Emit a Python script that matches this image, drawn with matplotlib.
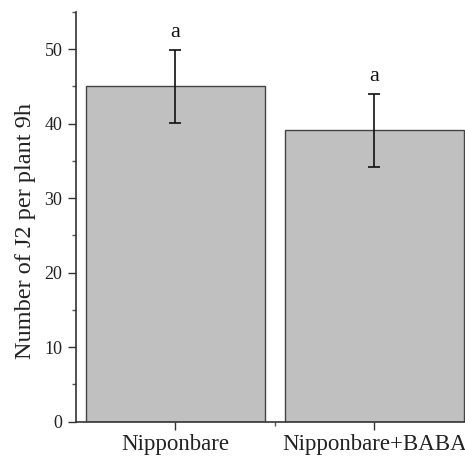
import matplotlib
matplotlib.use("Agg")
import matplotlib.pyplot as plt
from matplotlib.ticker import MultipleLocator, FixedLocator

categories = ["Nipponbare", "Nipponbare+BABA"]
means = [45.0, 39.1]
errors = [4.85, 4.85]
letters = ["a", "a"]

plt.rcParams["font.family"] = ["Liberation Serif", "DejaVu Serif"]

fig = plt.figure(figsize=(4.65, 4.61), dpi=100)
ax = fig.add_axes([76 / 465, 39.3 / 461, (473.6 - 76) / 465, (421.7 - 12) / 461])

x = list(range(len(categories)))
ax.bar(x, means, width=0.9, color="#c0c0c0", edgecolor="#444444", linewidth=1.0, zorder=2)
ax.errorbar(x, means, yerr=errors, fmt="none", ecolor="#111111", elinewidth=1.2,
            capsize=4, capthick=1.2, zorder=3)
for xi, m, e, t in zip(x, means, errors, letters):
    ax.text(xi, m + e + 1.1, t, ha="center", va="bottom", fontsize=16, color="#111111")

ax.set_xlim(-0.5, 1.5)
ax.set_ylim(0, 55)
ax.set_xticks(x)
ax.set_xticklabels(categories, fontsize=16.5)
ax.xaxis.set_minor_locator(FixedLocator([0.5]))
ax.yaxis.set_major_locator(MultipleLocator(10))
ax.yaxis.set_minor_locator(MultipleLocator(5))
ax.tick_params(axis="y", which="major", labelsize=13, length=5.8, width=1.0, direction="out",
               colors="#333333", labelcolor="#222222", pad=4)
ax.tick_params(axis="y", which="minor", length=3, width=1.0, direction="out", colors="#555555")
ax.tick_params(axis="x", which="major", length=5.5, width=1.0, direction="out",
               colors="#333333", labelcolor="#222222", pad=3.5)
ax.tick_params(axis="x", which="minor", length=3, width=1.0, direction="out", colors="#555555")

for side in ("top", "right"):
    ax.spines[side].set_visible(False)
for side in ("left", "bottom"):
    ax.spines[side].set_linewidth(1.2)
    ax.spines[side].set_color("#333333")

fig.text(25 / 465, 1 - 231 / 461, "Number of J2 per plant 9h", rotation=90,
         ha="center", va="center", fontsize=17.5, color="#222222")

fig.savefig("out.png", dpi=100)
